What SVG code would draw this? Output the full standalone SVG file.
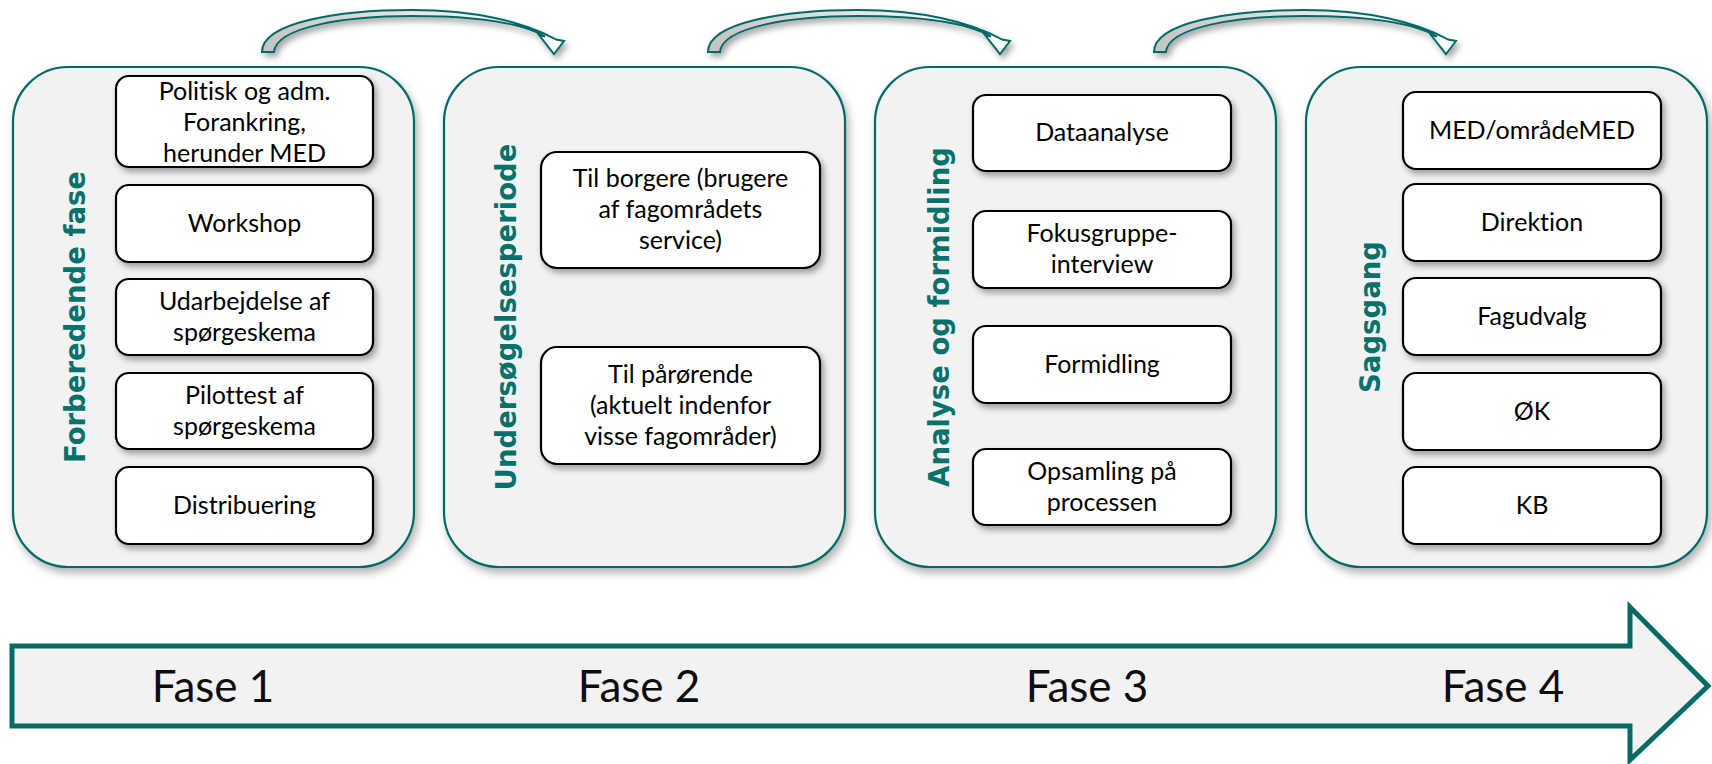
<svg xmlns="http://www.w3.org/2000/svg" width="1712" height="764" viewBox="0 0 1712 764">
<defs>
  <filter id="sh" x="-10%" y="-10%" width="125%" height="130%">
    <feDropShadow dx="3" dy="4" stdDeviation="3" flood-color="#000" flood-opacity="0.35"/>
  </filter>
  <filter id="shp" x="-10%" y="-10%" width="125%" height="125%">
    <feDropShadow dx="3" dy="5" stdDeviation="4" flood-color="#000" flood-opacity="0.3"/>
  </filter>
  <linearGradient id="cg" x1="0" y1="0" x2="1" y2="0">
    <stop offset="0" stop-color="#c4c4c4"/>
    <stop offset="0.5" stop-color="#e6e6e6"/>
    <stop offset="1" stop-color="#ffffff"/>
  </linearGradient>
  <path id="carrow" d="M262,52 C262,22 340,10 412,10 C475,10 525,22 556,39.5 L564,41 L554,54 L539,35 L545,36.5 C520,22 470,16 412,16 C345,16 276,27 274,52 Z"/>
</defs>
<style>
  .panel { fill: #f2f2f2; stroke: #066b67; stroke-width: 2.2; filter: url(#shp); }
  .box { fill: #ffffff; stroke: #000000; stroke-width: 2.2; filter: url(#sh); }
  .bt { font-family: Lato, "Liberation Sans", sans-serif; font-size: 25px; fill: #000; text-anchor: middle; font-variant-ligatures: none; }
  .vt { font-family: "DejaVu Sans", Verdana, sans-serif; font-weight: bold; font-size: 27.5px; fill: #07716c; text-anchor: middle; }
  .ft { font-family: Lato, "Liberation Sans", sans-serif; font-size: 44px; fill: #0d0d0d; text-anchor: middle; }
  .ca { fill: url(#cg); stroke: #066b67; stroke-width: 2; stroke-linejoin: miter; filter: url(#sh); }
  .big { fill: #f2f2f2; stroke: #066b67; stroke-width: 5; stroke-linejoin: miter; }
</style>

<g id="connectors">
  <use href="#carrow" class="ca"/>
  <use href="#carrow" class="ca" transform="translate(446,0)"/>
  <use href="#carrow" class="ca" transform="translate(892,0)"/>
</g>

<g id="phase1">
  <rect class="panel" x="13" y="67" width="401" height="500" rx="55"/>
  <text class="vt" transform="translate(85,317) rotate(-90)">Forberedende fase</text>
  <g id="p1b1"><rect class="box" x="116" y="76" width="257" height="91" rx="13"/>
    <text class="bt" x="244.5" y="100">Politisk og adm.</text>
    <text class="bt" x="244.5" y="131">Forankring,</text>
    <text class="bt" x="244.5" y="162">herunder MED</text></g>
  <g id="p1b2"><rect class="box" x="116" y="185" width="257" height="77" rx="13"/>
    <text class="bt" x="244.5" y="232">Workshop</text></g>
  <g id="p1b3"><rect class="box" x="116" y="279" width="257" height="76" rx="13"/>
    <text class="bt" x="244.5" y="310">Udarbejdelse af</text>
    <text class="bt" x="244.5" y="341">spørgeskema</text></g>
  <g id="p1b4"><rect class="box" x="116" y="373" width="257" height="76" rx="13"/>
    <text class="bt" x="244.5" y="404">Pilottest af</text>
    <text class="bt" x="244.5" y="435">spørgeskema</text></g>
  <g id="p1b5"><rect class="box" x="116" y="467" width="257" height="77" rx="13"/>
    <text class="bt" x="244.5" y="514">Distribuering</text></g>
</g>

<g id="phase2">
  <rect class="panel" x="444" y="67" width="401" height="500" rx="55"/>
  <text class="vt" transform="translate(516,317) rotate(-90)">Undersøgelsesperiode</text>
  <g id="p2b1"><rect class="box" x="541" y="152" width="279" height="116" rx="16"/>
    <text class="bt" x="680.5" y="187">Til borgere (brugere</text>
    <text class="bt" x="680.5" y="218">af fagområdets</text>
    <text class="bt" x="680.5" y="249">service)</text></g>
  <g id="p2b2"><rect class="box" x="541" y="347" width="279" height="117" rx="16"/>
    <text class="bt" x="680.5" y="383">Til pårørende</text>
    <text class="bt" x="680.5" y="414">(aktuelt indenfor</text>
    <text class="bt" x="680.5" y="445">visse fagområder)</text></g>
</g>

<g id="phase3">
  <rect class="panel" x="875" y="67" width="401" height="500" rx="55"/>
  <text class="vt" transform="translate(949,317) rotate(-90)">Analyse og formidling</text>
  <g id="p3b1"><rect class="box" x="973" y="95" width="258" height="76" rx="13"/>
    <text class="bt" x="1102" y="141">Dataanalyse</text></g>
  <g id="p3b2"><rect class="box" x="973" y="211" width="258" height="77" rx="13"/>
    <text class="bt" x="1102" y="242">Fokusgruppe-</text>
    <text class="bt" x="1102" y="273">interview</text></g>
  <g id="p3b3"><rect class="box" x="973" y="326" width="258" height="77" rx="13"/>
    <text class="bt" x="1102" y="373">Formidling</text></g>
  <g id="p3b4"><rect class="box" x="973" y="449" width="258" height="76" rx="13"/>
    <text class="bt" x="1102" y="480">Opsamling på</text>
    <text class="bt" x="1102" y="511">processen</text></g>
</g>

<g id="phase4">
  <rect class="panel" x="1306" y="67" width="401" height="500" rx="55"/>
  <text class="vt" transform="translate(1380,317) rotate(-90)">Sagsgang</text>
  <g id="p4b1"><rect class="box" x="1403" y="92" width="258" height="77" rx="13"/>
    <text class="bt" x="1532" y="139">MED/områdeMED</text></g>
  <g id="p4b2"><rect class="box" x="1403" y="184" width="258" height="77" rx="13"/>
    <text class="bt" x="1532" y="231">Direktion</text></g>
  <g id="p4b3"><rect class="box" x="1403" y="278" width="258" height="77" rx="13"/>
    <text class="bt" x="1532" y="325">Fagudvalg</text></g>
  <g id="p4b4"><rect class="box" x="1403" y="373" width="258" height="77" rx="13"/>
    <text class="bt" x="1532" y="420">ØK</text></g>
  <g id="p4b5"><rect class="box" x="1403" y="467" width="258" height="77" rx="13"/>
    <text class="bt" x="1532" y="514">KB</text></g>
</g>

<g id="timeline">
  <path class="big" d="M12,646 L1630,646 L1630,607 L1708,686 L1630,760 L1630,726 L12,726 Z"/>
  <text class="ft" x="213" y="702">Fase 1</text>
  <text class="ft" x="639" y="702">Fase 2</text>
  <text class="ft" x="1087" y="702">Fase 3</text>
  <text class="ft" x="1503" y="702">Fase 4</text>
</g>
</svg>
